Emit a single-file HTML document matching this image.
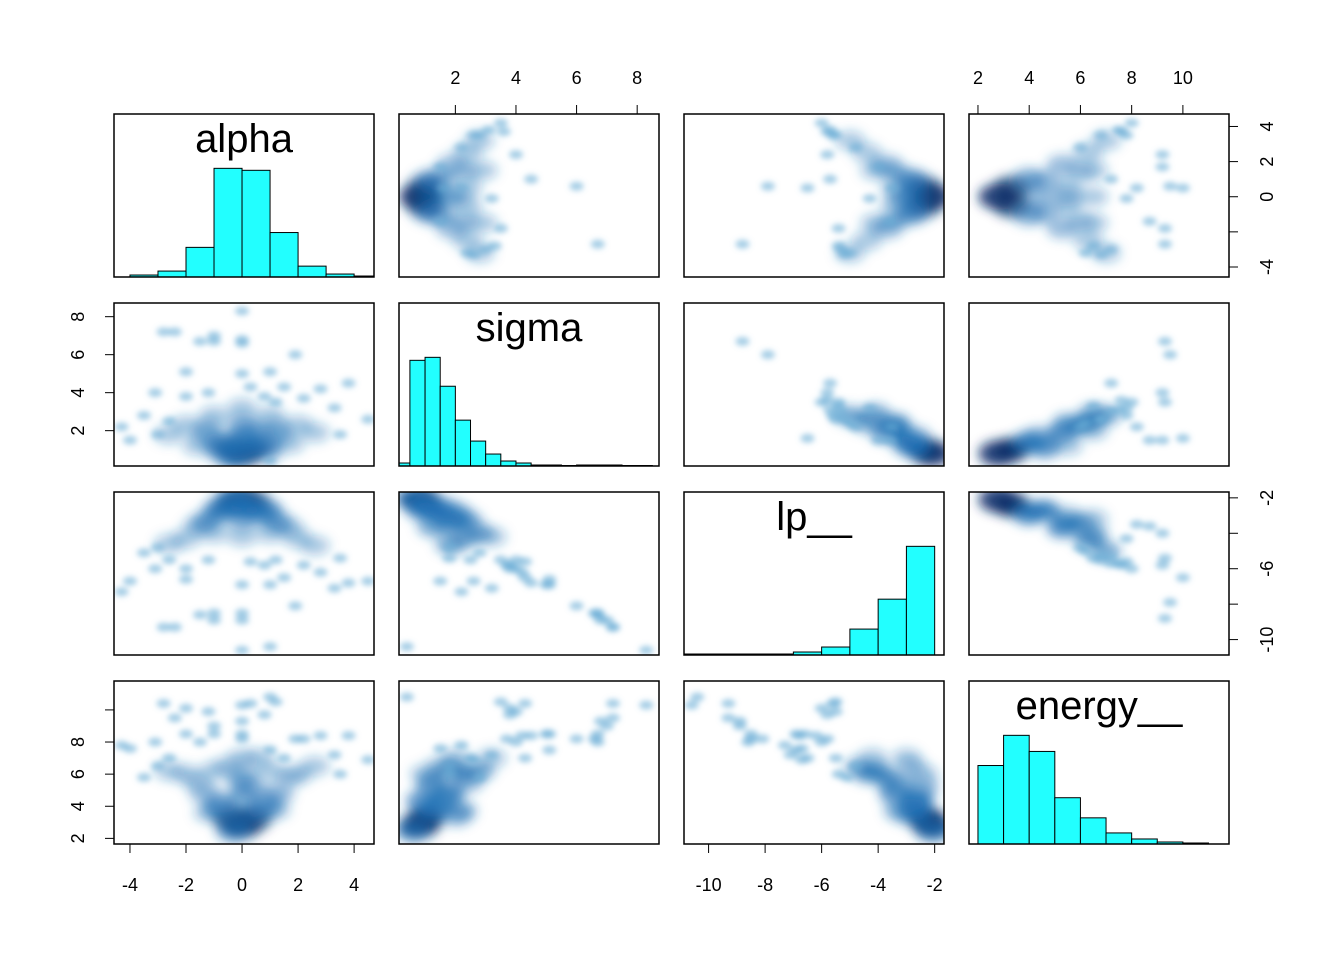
<!DOCTYPE html>
<html><head><meta charset="utf-8"><style>
body{margin:0;background:#fff;}
svg{display:block;font-family:"Liberation Sans",Arial,sans-serif;}
</style></head><body>
<svg id="plot" width="1344" height="960" viewBox="0 0 1344 960" xmlns="http://www.w3.org/2000/svg">
<defs>
<filter id="blur" x="-50%" y="-50%" width="200%" height="200%"><feGaussianBlur stdDeviation="3"/></filter>
<filter id="blur2" x="-50%" y="-50%" width="200%" height="200%"><feGaussianBlur stdDeviation="5.5"/></filter>
</defs>
</svg>
<script>
// ---- data ----
const varNames = ["alpha","sigma","lp__","energy__"];
const ranges = [[-4.57,4.71],[0.14,8.72],[-10.87,-1.67],[1.65,11.8]];
const alphaBinStart = -4, alphaBinWidth = 1;
const alphaCounts = [2,6,30,110,108,45,11,3,1];
const sigmaBinStart = 0, sigmaBinWidth = 0.5;
const sigmaCounts = [3,106,109,80,46,25,12,5,3,1,1,0.5,1,1,1,0.5,0.5];
const lpBinStart = -11, lpBinWidth = 1;
const lpCounts = [1,1,1,1,3,8,26,56,109];
const energyBinStart = 2, energyBinWidth = 1;
const energyCounts = [78,108,92,46,26,11,5,2,1];
// draws: [alpha, sigma, lp, energy, weight]
const lowerDraws = [
[0,0.8,-2.1,2.8,8],[-0.4,1.0,-2.3,3.2,6],[0.4,1.0,-2.3,3.2,6],[-0.8,1.3,-2.7,3.8,4],[0.8,1.3,-2.7,3.8,4],
[0,1.6,-2.6,4.5,4],[-1.3,1.8,-3.4,4.8,3],[1.3,1.8,-3.4,4.8,3],[0,2.4,-3.3,5.5,3],[-2,2.3,-4.3,6,2],
[2,2.3,-4.3,6,2],[-1,2.8,-4.0,6.2,2],[1,2.8,-4.0,6.2,2],[0.3,1.2,-2.4,5.2,3],[-0.5,1.5,-2.8,6.5,2],
[0.6,2.0,-3.0,7.0,2],[-1.6,1.2,-3.6,5.5,2],[1.7,1.3,-3.7,5.8,2],[-2.6,1.8,-4.6,6.2,2],[2.6,1.9,-4.7,6.5,2],
[0,3.2,-4.2,7.0,2],[-0.3,0.6,-2.05,2.5,5],[0.2,2.0,-2.8,3.4,3],[-0.8,0.9,-2.6,4.2,3],[0.9,0.9,-2.7,4.4,3],
[-1.2,2.2,-3.2,3.6,2],[1.2,2.2,-3.3,3.8,2],[0,1.0,-2.4,6.0,2],
[0,8.3,-10.6,10.3,1],[1,0.4,-10.4,10.8,1],[-2.8,7.2,-9.3,10.4,1],[-2.4,7.2,-9.3,9.5,1],[-1,7.0,-8.9,9.0,1],
[0,6.8,-8.9,9.3,1],[-1,6.7,-8.5,8.5,1],[0,6.6,-8.5,8.2,1],[1.9,6.0,-8.1,8.2,1],[-2,5.1,-6.6,8.5,1],
[0,5.0,-6.9,8.5,1],[1,5.1,-6.9,7.5,1],[-4.3,2.2,-7.3,7.8,1],[-4.0,1.5,-6.7,7.6,1],[4.5,2.6,-6.7,6.9,1],
[3.8,4.5,-6.8,8.4,1],[3.3,3.2,-7.1,7.2,1],[-3.1,4.0,-6.0,8.0,1],[-3.5,2.8,-5.1,5.8,1],[2.8,4.2,-6.2,8.4,1],
[1.5,4.3,-6.5,7.0,1],[-2,3.8,-6.0,10.1,1],[-1.2,4.0,-5.5,9.9,1],[0.3,4.3,-5.6,10.4,1],[1.2,3.5,-5.5,10.5,1],
[-3,1.8,-4.8,6.5,1],[3.5,1.8,-5.4,6,1],[-1.5,6.7,-8.6,8.0,1],[2.2,3.7,-5.8,8.2,1],[-2.6,2.5,-5.5,7,1],[0.8,3.8,-5.8,9.7,1]
];
const upperDraws = [
[0,0.8,-2.1,2.8,8],[0.5,1.0,-2.4,3.3,6],[-0.5,1.0,-2.4,3.3,6],[1,1.4,-2.9,4,4],[-1,1.4,-2.9,4,4],[0,1.7,-2.7,4.4,3],
[1.8,1.9,-3.7,5.3,3],[-1.8,1.9,-3.7,5.3,3],[2.5,2.4,-4.4,6.3,2],[-2.5,2.4,-4.4,6.3,2],[0.5,2.4,-3.4,5.5,2],
[-0.5,2.4,-3.4,5.5,2],[1.5,2.9,-4.1,6.5,2],[-1.5,2.9,-4.1,6.5,2],[0,1.2,-3.0,5.5,2],[3.2,2.8,-5.0,7,2],[-3.2,2.8,-5.0,7,2],
[0.9,1.1,-2.7,4.6,3],[-0.9,1.1,-2.7,4.6,3],[1.4,2.3,-3.4,6.0,2],[-1.4,2.3,-3.4,6.0,2],[0,2.0,-3.2,6.5,2],
[3.8,3.1,-5.7,7.5,1],[4.2,3.5,-6,8,1],[3.7,3.6,-5.8,7.6,1],[-3.3,2.6,-5.2,6.8,1],[-3.0,3,-5.3,7.2,1],
[-2.8,3.3,-5.4,6.5,1],[3.5,2.6,-5.5,6.8,1],[1.0,4.5,-5.7,7.2,1],[0.6,6.0,-7.9,9.5,1],[-2.7,6.7,-8.8,9.3,1],
[2.4,4.0,-5.8,9.2,1],[-1.8,3.5,-5.4,9.3,1],[0.5,2.2,-3.5,8.2,1],[-0.1,3.2,-4.3,7.8,1],[1.7,1.5,-4.0,9.2,1],
[-1.4,1.5,-3.6,8.7,1],[3.5,2.8,-5.6,7.8,1],[-3.2,2.4,-5.0,6.2,1],[2.8,2.2,-4.8,6,1],[0.5,1.6,-6.5,10.0,1]
];
const alphaTicks = [-4,-2,0,2,4];
const alphaYLabels = ["-4","","0","2","4"];
const sigmaTicks = [2,4,6,8];
const lpTicks = [-10,-8,-6,-4,-2];
const lpYLabels = ["-10","","-6","","-2"];
const energyTicks = [2,4,6,8,10];
const energyYLabels = ["2","4","6","8",""];

// ---- layout ----
const colX = [114,399,684,969], W = 260;
const rowY = [114,303,492,681], H = 163;
const NS = "http://www.w3.org/2000/svg";
const svg = document.getElementById('plot');
function mk(tag, attrs, parent){const e=document.createElementNS(NS,tag);for(const k in attrs)e.setAttribute(k,attrs[k]);(parent||svg).appendChild(e);return e;}
function xScale(v,c,val){const r=ranges[v];return colX[c]+(val-r[0])/(r[1]-r[0])*W;}
function yScale(v,rw,val){const r=ranges[v];return rowY[rw]+H-(val-r[0])/(r[1]-r[0])*H;}

const hists = [[alphaBinStart,alphaBinWidth,alphaCounts],[sigmaBinStart,sigmaBinWidth,sigmaCounts],[lpBinStart,lpBinWidth,lpCounts],[energyBinStart,energyBinWidth,energyCounts]];

for(let r=0;r<4;r++){for(let c=0;c<4;c++){
  const g = mk('g',{});
  
  
  const cid='clip'+r+c;
  const cp=mk('clipPath',{id:cid},g); mk('rect',{x:colX[c],y:rowY[r],width:W,height:H},cp);
  const inner=mk('g',{'clip-path':'url(#'+cid+')'},g);
  if(r===c){
    const [b0,bw,counts]=hists[r]; const mx=Math.max(...counts);
    counts.forEach((n,i)=>{
      const x0=xScale(r,c,b0+i*bw), x1=xScale(r,c,b0+(i+1)*bw);
      const h=n/mx*H/1.5;
      const b=mk('rect',{x:x0,y:rowY[r]+H-h,width:x1-x0,height:h,fill:'#22FFFF',stroke:'#000','stroke-width':1},inner);
      
      
    });
    const t=mk('text',{x:colX[c]+W/2,y:rowY[r]+38,'text-anchor':'middle','font-size':40,fill:'#000'},g);
    t.textContent=varNames[r];
    
    
  } else {
    const draws = c>r ? upperDraws : lowerDraws;
    const big=mk('g',{filter:'url(#blur2)'},inner);
    const small=mk('g',{filter:'url(#blur)'},inner);
    draws.forEach(d=>{
      const px=xScale(c,c,d[c]), py=yScale(r,r,d[r]), w=d[4];
      let e;
      if(w>1){
        e=mk('ellipse',{cx:px,cy:py,rx:10+3.5*Math.sqrt(w),ry:6+2.5*Math.sqrt(w),fill:w>=6?'#08306B':'#2171B5','fill-opacity':Math.min(0.85,0.18+0.09*w)},big);
      } else {
        e=mk('ellipse',{cx:px,cy:py,rx:7,ry:4.5,fill:'#6BAED6','fill-opacity':0.6},small);
      }
      
      
    });
  }
  const fr=mk('rect',{x:colX[c],y:rowY[r],width:W,height:H,fill:'none',stroke:'#000','stroke-width':1.5},g);
  
  
}}

// ---- axes ----
function xAxis(c,ticks,labels,top){
  const g=mk('g',{});
  
  
  const y0 = top ? rowY[0] : rowY[3]+H;
  const dir = top?-1:1;
  const xs=ticks.map(t=>xScale(c,c,t));
  mk('line',{x1:xs[0],x2:xs[xs.length-1],y1:y0,y2:y0,stroke:'#000'},g);
  ticks.forEach((t,i)=>{
    mk('line',{x1:xs[i],x2:xs[i],y1:y0,y2:y0+dir*9,stroke:'#000'},g);
    const tx=mk('text',{x:xs[i],y:top?y0-30:y0+47,'text-anchor':'middle','font-size':18},g);
    tx.textContent=labels[i];
  });
}
function yAxis(r,ticks,labels,right){
  const g=mk('g',{});
  
  
  const x0 = right ? colX[3]+W : colX[0];
  const dir = right?1:-1;
  const ys=ticks.map(t=>yScale(r,r,t));
  mk('line',{x1:x0,x2:x0,y1:ys[0],y2:ys[ys.length-1],stroke:'#000'},g);
  ticks.forEach((t,i)=>{
    mk('line',{x1:x0,x2:x0+dir*9,y1:ys[i],y2:ys[i],stroke:'#000'},g);
    const lx = right ? x0+44 : x0-30;
    const tx=mk('text',{x:lx,y:ys[i],'text-anchor':'middle','font-size':18,transform:'rotate(-90 '+lx+' '+ys[i]+')'},g);
    tx.textContent=labels[i];
  });
}
xAxis(0,alphaTicks,alphaTicks.map(String),false);
xAxis(2,lpTicks,lpTicks.map(String),false);
xAxis(1,sigmaTicks,sigmaTicks.map(String),true);
xAxis(3,energyTicks,energyTicks.map(String),true);
yAxis(0,alphaTicks,alphaYLabels,true);
yAxis(2,lpTicks,lpYLabels,true);
yAxis(1,sigmaTicks,sigmaTicks.map(String),false);
yAxis(3,energyTicks,energyYLabels,false);
</script>
</body></html>
